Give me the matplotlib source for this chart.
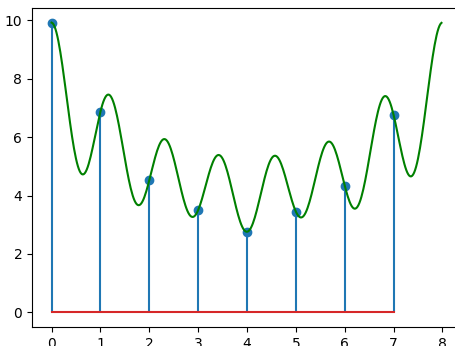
import matplotlib
matplotlib.use("Agg")
import matplotlib.pyplot as plt
import numpy as np

x_samples = [0, 1, 2, 3, 4, 5, 6, 7]
y_samples = [9.92, 6.87, 4.52, 3.50, 2.76, 3.45, 4.34, 6.76]
period = 8


def idft_continuous(y, t, n_period):
    """Evaluate the inverse DFT (k = 0..N-1) at continuous t, real part."""
    y = np.asarray(y, dtype=float)
    n = len(y)
    X = np.fft.fft(y)
    k = np.arange(n)
    out = (X[None, :] * np.exp(2j * np.pi * np.outer(t, k) / n_period)).sum(axis=1)
    return out.real / n


t = np.linspace(0, period, 400, endpoint=False)
curve = idft_continuous(y_samples, t, period)

fig = plt.figure(figsize=(4.56, 3.46), dpi=100)
ax = fig.add_axes([32 / 456, 19 / 346, 430 / 456, 319 / 346])

ax.stem(x_samples, y_samples)
ax.plot(t, curve, "g-")
ax.set_xlim(-0.4, 8.4)
ax.set_ylim(-0.5, 10.42)

fig.savefig("out.png", dpi=100)
